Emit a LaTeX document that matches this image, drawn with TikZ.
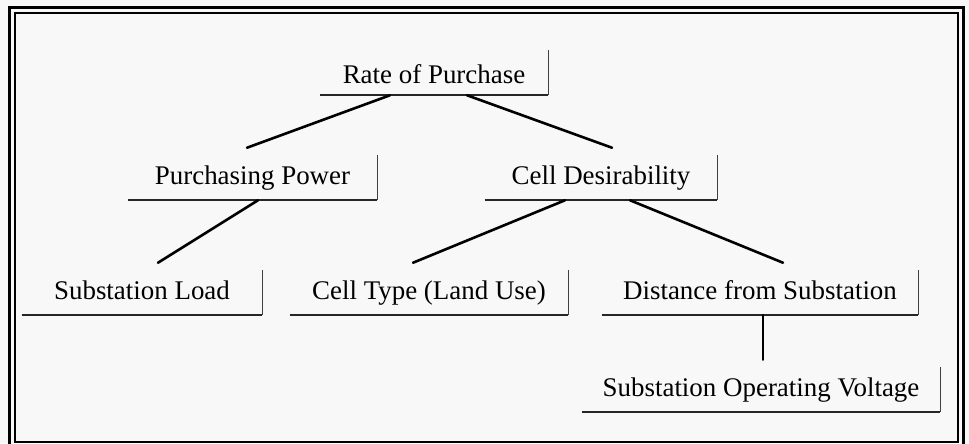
\documentclass[tikz,border=0pt]{standalone}
\usepackage{fontspec}
\setmainfont{Liberation Serif}
\usetikzlibrary{calc}
\definecolor{bgc}{HTML}{F8F8F8}
\newcommand{\bracketof}[1]{%
  \draw[uline] (#1.south west) -- (#1.south east);
  \draw[vline] (#1.south east) -- ++(0,-45);}
\begin{document}
\begin{tikzpicture}[x=0.75pt,y=-0.75pt,
  box/.style={inner sep=0pt, minimum width=#1*0.75pt, minimum height=39pt,
    font=\fontsize{20.2}{24}\selectfont, text height=16.3pt, text depth=0pt},
  uline/.style={line width=1.2pt, black!85},
  vline/.style={line width=0.7pt, black!75},
  conn/.style={line width=1.95pt, black, line cap=round},
  frameout/.style={line width=2.25pt, black},
  framein/.style={line width=1.5pt, black}]
\useasboundingbox (0,0) rectangle (969,443);
\fill[bgc] (0,0) rectangle (969,443);
\begin{scope}
\clip (0,0) rectangle (969,443);
\draw[frameout] (9.5,7.5) rectangle (963.5,448);
\draw[framein] (14.5,13) rectangle (958,441.5);
\end{scope}

\node[box=228, minimum height=33.75pt] (rp) at (434,72.5) {Rate of Purchase\hspace{10.5pt}};
\node[box=249] (pp) at (252.5,174) {Purchasing Power\hspace{17pt}};
\node[box=232] (cd) at (601,174) {Cell Desirability\hspace{16.5pt}};
\node[box=240] (sl) at (142,289) {Substation Load\hspace{9pt}};
\node[box=278] (ct) at (429,289) {Cell Type (Land Use)\hspace{4.5pt}};
\node[box=316] (ds) at (760,289) {Distance from Substation\hspace{13.5pt}};
\node[box=358] (sv) at (761,386) {Substation Operating Voltage\hspace{7.5pt}};

\bracketof{rp}
\bracketof{pp}
\bracketof{cd}
\bracketof{sl}
\bracketof{ct}
\bracketof{ds}
\bracketof{sv}

\draw[conn] ($(rp.south)+(-44,0)$) -- ($(pp.north)+(-5.5,0)$);
\draw[conn] ($(rp.south)+(33,0)$) -- ($(cd.north)+(11,0)$);
\draw[conn] ($(pp.south)+(5.5,0)$) -- ($(sl.north)+(16,0)$);
\draw[conn] ($(cd.south)+(-36,0)$) -- ($(ct.north)+(-16,0)$);
\draw[conn] ($(cd.south)+(29,0)$) -- ($(ds.north)+(23,0)$);
\draw[conn] ($(ds.south)+(3,0)$) -- ($(sv.north)+(2,0)$);
\end{tikzpicture}
\end{document}
